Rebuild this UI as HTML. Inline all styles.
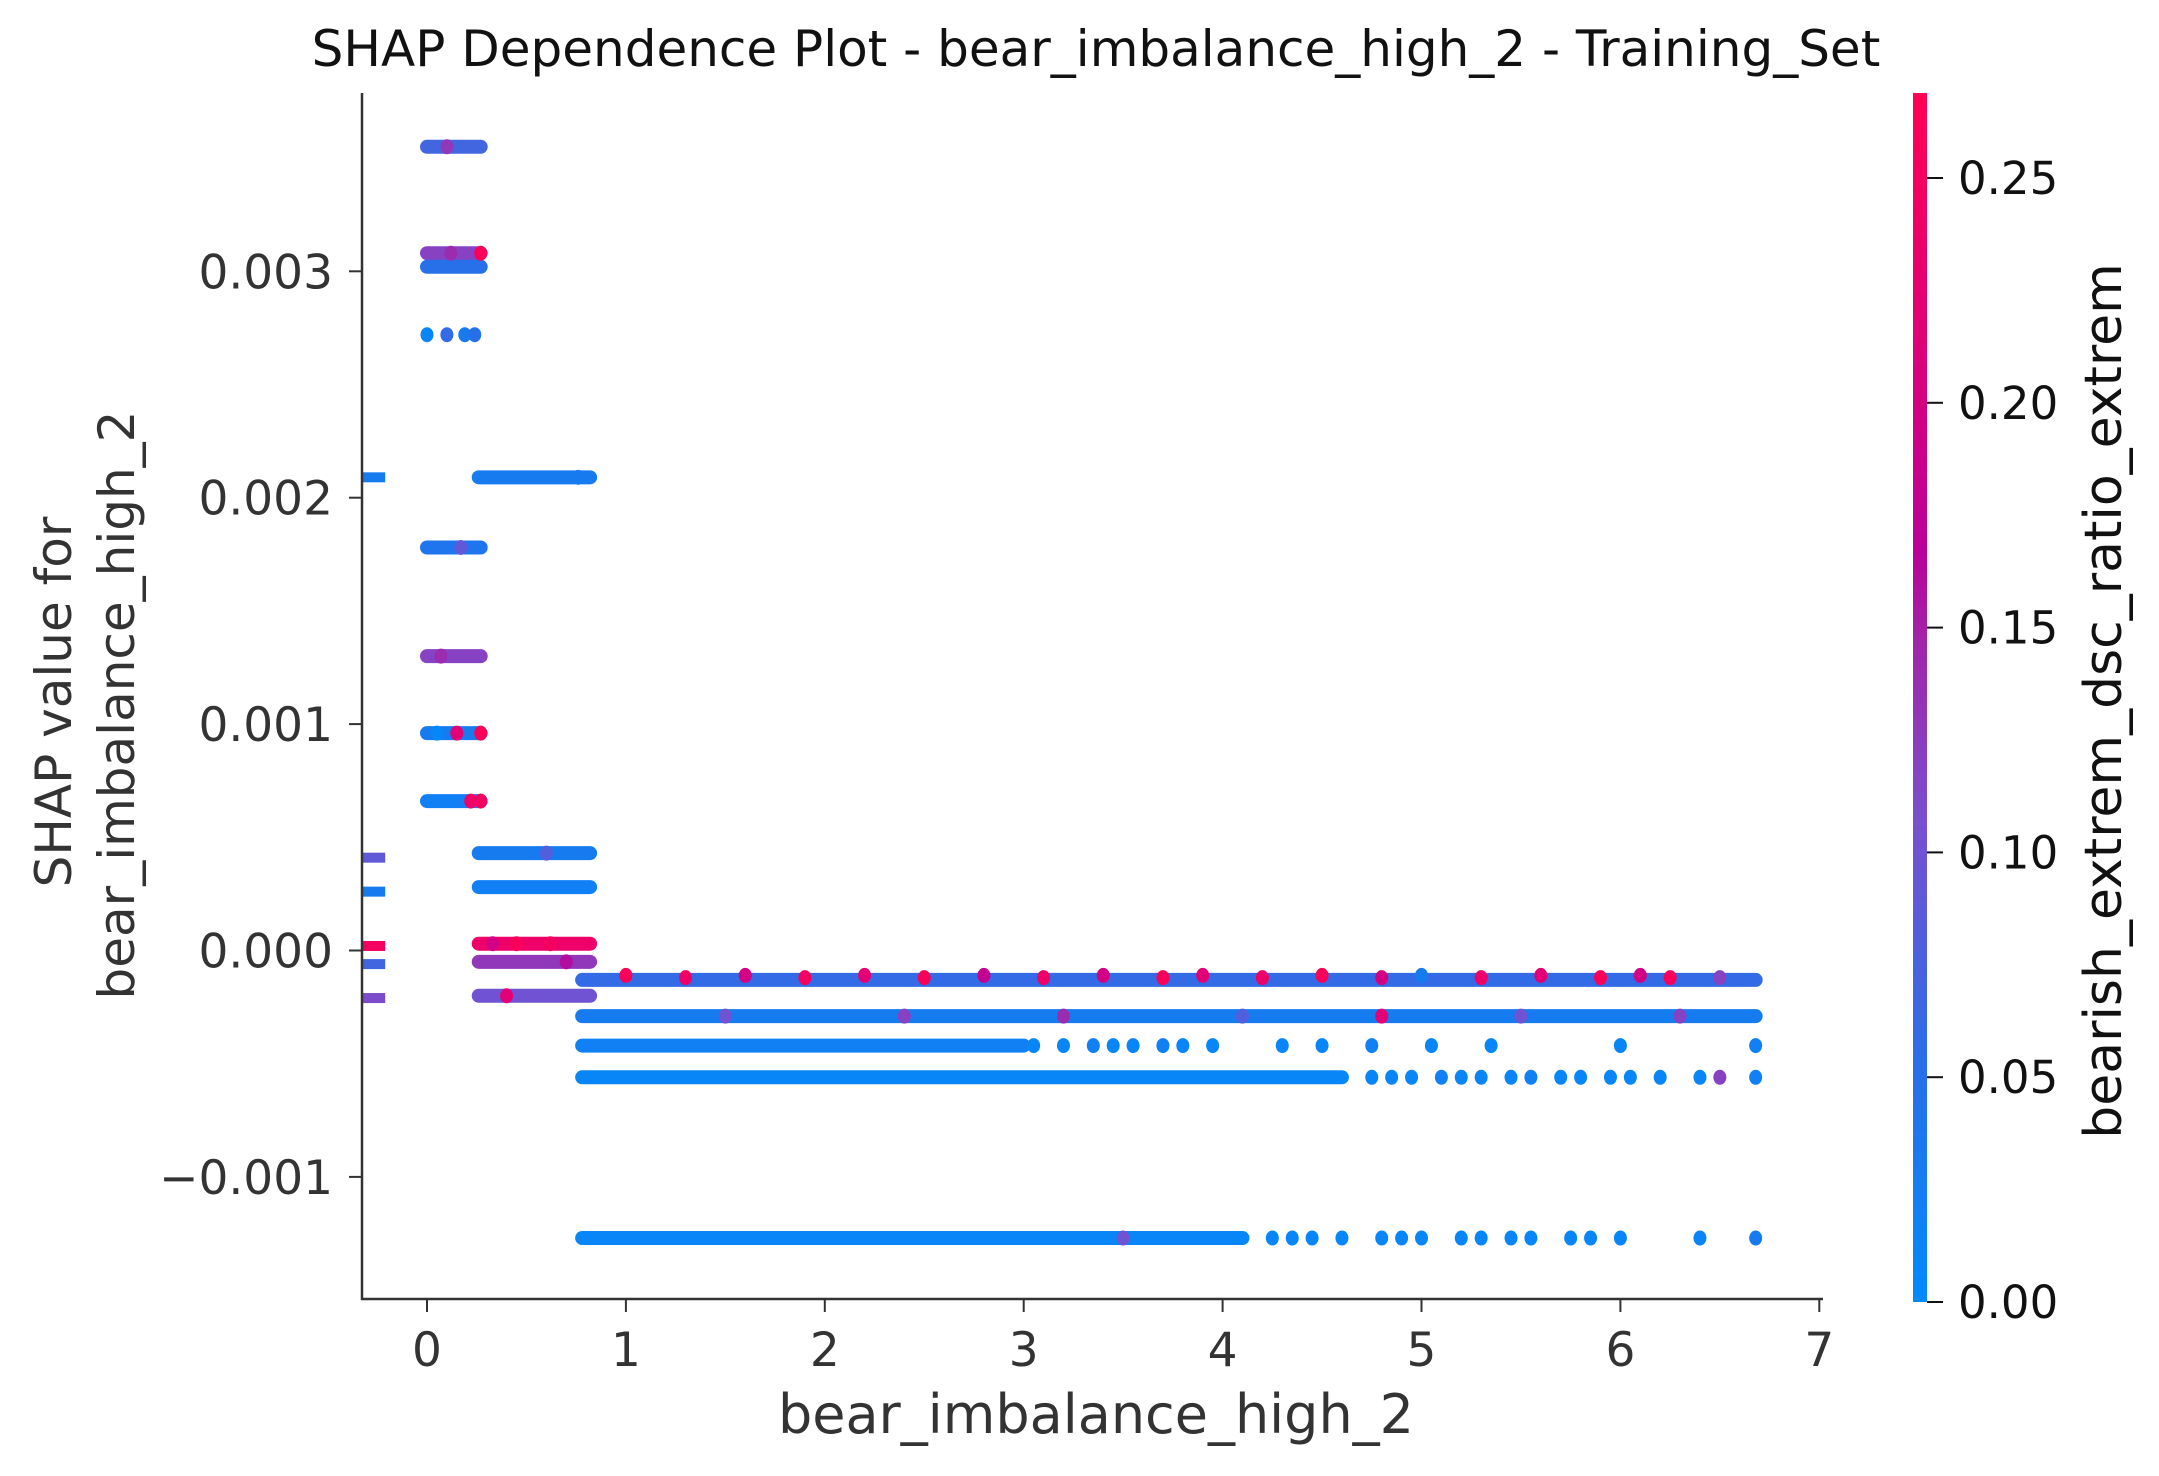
<!DOCTYPE html>
<html><head><meta charset="utf-8"><style>
body{margin:0;background:#fff}
svg text{font-family:"DejaVu Sans","Liberation Sans",sans-serif;fill:#333}
</style></head><body>
<svg id="chart" width="2159" height="1471" viewBox="0 0 2159 1471" xmlns="http://www.w3.org/2000/svg">
<defs><linearGradient id="cg" x1="0" y1="1" x2="0" y2="0">
<stop offset="0" stop-color="#008bfb"/><stop offset="0.2" stop-color="#2a6ee8"/><stop offset="0.4" stop-color="#7a4fcf"/><stop offset="0.55" stop-color="#a323a8"/><stop offset="0.62" stop-color="#b9009a"/><stop offset="0.8" stop-color="#e00077"/><stop offset="1" stop-color="#ff0052"/></linearGradient>
<clipPath id="pc"><rect x="362" y="90" width="1462" height="1208"/></clipPath></defs>
<text x="1096" y="66" font-size="50" text-anchor="middle" style="fill:#111">SHAP Dependence Plot - bear_imbalance_high_2 - Training_Set</text>
<g id="marks" clip-path="url(#pc)"></g>
<g id="axes"></g>
<rect x="1913" y="93" width="14" height="1209" fill="url(#cg)"/>
<g id="cbticks"></g>
<text transform="translate(2121,701) rotate(-90)" font-size="52" text-anchor="middle" style="fill:#111">bearish_extrem_dsc_ratio_extrem</text>
<text x="1096" y="1433" font-size="54" text-anchor="middle">bear_imbalance_high_2</text>
<text transform="translate(71,702) rotate(-90)" font-size="50" text-anchor="middle">SHAP value for</text>
<text transform="translate(134,705) rotate(-90)" font-size="50" text-anchor="middle">bear_imbalance_high_2</text>
</svg>
<script>
const xTicks=[0,1,2,3,4,5,6,7];
const yTicks=[0.003,0.002,0.001,0.000,-0.001];
const yTickLabels=["0.003","0.002","0.001","0.000","\u22120.001"];
const cTicks=[0,0.05,0.10,0.15,0.20,0.25];
const cTickLabels=["0.00","0.05","0.10","0.15","0.20","0.25"];
// bands: shap value, x start, x end, base feature value
const bandY=[0.00209,0.00041,0.00026,0.00002,-0.00006,-0.00021,
 0.00355,0.00308,0.00302,0.00178,0.00130,0.00096,0.00066,
 0.00209,0.00043,0.00028,0.00003,-0.00005,-0.00020,
 -0.00013,-0.00029,-0.00042,-0.00056,-0.00127];
const bandX0=[-0.34,-0.34,-0.34,-0.34,-0.34,-0.34,
 0,0,0,0,0,0,0,
 0.26,0.26,0.26,0.26,0.26,0.26,
 0.78,0.78,0.78,0.78,0.78];
const bandX1=[-0.21,-0.21,-0.21,-0.21,-0.21,-0.21,
 0.27,0.27,0.27,0.27,0.27,0.27,0.27,
 0.82,0.82,0.82,0.82,0.82,0.82,
 6.68,6.68,3.0,4.6,4.1];
const bandC=[0.03,0.09,0.03,0.25,0.07,0.11,
 0.07,0.12,0.05,0.04,0.12,0.03,0.02,
 0.03,0.03,0.02,0.24,0.13,0.10,
 0.06,0.03,0.02,0.01,0.01];
// scattered points: x, shap value, feature value
const ptX=[0,0.1,0.19,0.24,0.12,0.27,0.1,0.27,0.05,0.15,0.27,0.22,0.07,0.17,
 0.45,0.62,0.33,0.4,0.7,0.6,0.76,
 1.0,1.3,1.6,1.9,2.2,2.5,2.8,3.1,3.4,3.7,3.9,4.2,4.5,4.8,5.0,5.3,5.6,5.9,6.1,6.25,6.5,
 1.5,2.4,3.2,4.1,4.8,5.5,6.3,
 3.05,3.2,3.35,3.45,3.55,3.7,3.8,3.95,4.3,4.5,4.75,5.05,5.35,6.0,6.68,
 4.75,4.85,4.95,5.1,5.2,5.3,5.45,5.55,5.7,5.8,5.95,6.05,6.2,6.4,6.5,6.68,
 4.25,4.35,4.45,4.6,4.8,4.9,5.0,5.2,5.3,5.45,5.55,5.75,5.85,6.0,6.4,6.68,3.5];
const ptY=[0.00272,0.00272,0.00272,0.00272,0.00308,0.00308,0.00355,0.00096,0.00096,0.00096,0.00066,0.00066,0.00130,0.00178,
 0.00003,0.00003,0.00003,-0.00020,-0.00005,0.00043,0.00209,
 -0.00011,-0.00012,-0.00011,-0.00012,-0.00011,-0.00012,-0.00011,-0.00012,-0.00011,-0.00012,-0.00011,-0.00012,-0.00011,-0.00012,-0.00011,-0.00012,-0.00011,-0.00012,-0.00011,-0.00012,-0.00012,
 -0.00029,-0.00029,-0.00029,-0.00029,-0.00029,-0.00029,-0.00029,
 -0.00042,-0.00042,-0.00042,-0.00042,-0.00042,-0.00042,-0.00042,-0.00042,-0.00042,-0.00042,-0.00042,-0.00042,-0.00042,-0.00042,-0.00042,
 -0.00056,-0.00056,-0.00056,-0.00056,-0.00056,-0.00056,-0.00056,-0.00056,-0.00056,-0.00056,-0.00056,-0.00056,-0.00056,-0.00056,-0.00056,-0.00056,
 -0.00127,-0.00127,-0.00127,-0.00127,-0.00127,-0.00127,-0.00127,-0.00127,-0.00127,-0.00127,-0.00127,-0.00127,-0.00127,-0.00127,-0.00127,-0.00127,-0.00127];
const ptC=[0.01,0.06,0.03,0.05,0.14,0.26,0.13,0.26,0.01,0.22,0.25,0.24,0.14,0.09,
 0.26,0.25,0.2,0.22,0.16,0.08,0.03,
 0.26,0.24,0.2,0.25,0.22,0.26,0.18,0.24,0.2,0.26,0.22,0.24,0.26,0.2,0.03,0.24,0.22,0.26,0.2,0.26,0.12,
 0.1,0.12,0.14,0.08,0.22,0.1,0.12,
 0.01,0.01,0.02,0.01,0.01,0.02,0.01,0.01,0.01,0.01,0.02,0.01,0.01,0.01,0.02,
 0.01,0.01,0.01,0.02,0.01,0.01,0.01,0.02,0.01,0.01,0.01,0.01,0.01,0.01,0.12,0.02,
 0.01,0.01,0.01,0.01,0.01,0.01,0.01,0.01,0.01,0.01,0.01,0.01,0.01,0.01,0.01,0.03,0.1];

const NS='http://www.w3.org/2000/svg';
const X=v=>427+v*198.9;
const Y=v=>950.5-v*226400;
const C=v=>1302-v*(1302-178)/0.25;
const stops=[[0,[0,139,251]],[0.2,[42,110,232]],[0.4,[122,79,207]],[0.55,[163,35,168]],[0.62,[185,0,154]],[0.8,[224,0,122]],[1,[255,0,82]]];
function col(v){let t=Math.max(0,Math.min(1,v/0.269));for(let i=1;i<stops.length;i++){if(t<=stops[i][0]){const a=stops[i-1],b=stops[i];const f=(t-a[0])/(b[0]-a[0]);return 'rgb('+a[1].map((c,k)=>Math.round(c+(b[1][k]-c)*f)).join(',')+')';}}return 'rgb(255,0,82)';}
function mk(tag,at,p){const e=document.createElementNS(NS,tag);for(const k in at)e.setAttribute(k,at[k]);p.appendChild(e);return e;}
const marks=document.getElementById('marks'),axes=document.getElementById('axes'),cb=document.getElementById('cbticks');
for(let i=0;i<bandY.length;i++){
 const left=bandX0[i]<0;const h=left?10:14;
 const x0=X(bandX0[i])-(left?0:7),x1=X(bandX1[i])+(left?0:7);
 const r=mk('rect',{x:x0,y:Y(bandY[i])-h/2,width:x1-x0,height:h,rx:left?0:7,fill:col(bandC[i])},marks);
 
 
}
for(let i=0;i<ptX.length;i++){
 const c=mk('ellipse',{cx:X(ptX[i]),cy:Y(ptY[i]),rx:6.5,ry:7.5,fill:col(ptC[i])},marks);
 
 
}
const ya=mk('line',{x1:362,y1:93,x2:362,y2:1300,stroke:'#333','stroke-width':2.5},axes);


const xa=mk('line',{x1:361,y1:1299,x2:1823,y2:1299,stroke:'#333','stroke-width':2.5},axes);


xTicks.forEach(v=>{
 mk('line',{x1:X(v),y1:1299,x2:X(v),y2:1312,stroke:'#333','stroke-width':2},axes);
 const t=mk('text',{x:X(v),y:1366,'font-size':47,'text-anchor':'middle'},axes);t.textContent=v;
 
 
});
yTicks.forEach((v,i)=>{
 mk('line',{x1:349,y1:Y(v),x2:362,y2:Y(v),stroke:'#333','stroke-width':2},axes);
 const t=mk('text',{x:333,y:Y(v)+17,'font-size':47,'text-anchor':'end'},axes);t.textContent=yTickLabels[i];
 
 
});
cTicks.forEach((v,i)=>{
 mk('line',{x1:1927,y1:C(v),x2:1943,y2:C(v),stroke:'#111','stroke-width':2},cb);
 const t=mk('text',{x:1958,y:C(v)+16,'font-size':45,style:'fill:#111'},cb);t.textContent=cTickLabels[i];
 
 
});
</script>
</body></html>
